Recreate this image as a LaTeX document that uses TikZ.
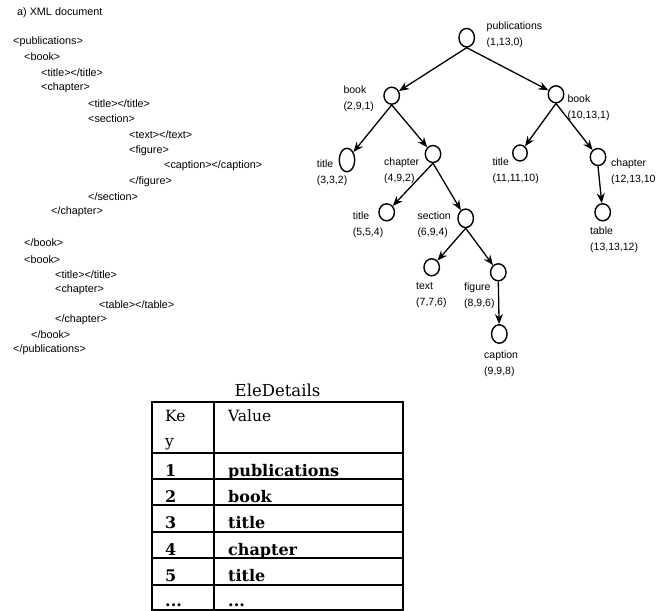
\documentclass[tikz,border=0pt]{standalone}
\usepackage{fontspec}
\setmainfont{Liberation Sans}
\newfontfamily\tabfont{DejaVu Serif}
\usetikzlibrary{shapes.geometric,arrows.meta}

\begin{document}
\begin{tikzpicture}[x=1pt,y=-1pt,
    xml/.style = {anchor=west, inner sep=0pt, font=\fontsize{10.8}{12}\selectfont},
    elem/.style = {draw, ellipse, line width=1.4pt, inner sep=0pt,
        minimum width=15.5pt, minimum height=17pt},
    lbl/.style = {anchor=west, align=left, inner sep=0pt,
        font=\fontsize{10.5}{16}\selectfont},
    edge/.style = {line width=1.3pt, -{Stealth[length=10pt,width=8pt]}},
    cell/.style = {inner sep=0pt, anchor=base west,
        font=\tabfont\fontsize{15.5}{18}\selectfont},
    bcell/.style = {cell, font=\tabfont\bfseries\fontsize{16}{18}\selectfont}]
  \useasboundingbox (0,0) rectangle (657,611);

  % XML document
  \node (head) [xml] at (17,13) {a) XML document};
  \node (x1) [xml] at (13,42) {<publications>};
  \node (x2) [xml] at (24,57) {<book>};
  \node (x3) [xml] at (41,73) {<title></title>};
  \node (x4) [xml] at (41,88) {<chapter>};
  \node (x5) [xml] at (88,104) {<title></title>};
  \node (x6) [xml] at (88,119) {<section>};
  \node (x7) [xml] at (129,135) {<text></text>};
  \node (x8) [xml] at (129,151) {<figure>};
  \node (x9) [xml] at (164,166) {<caption></caption>};
  \node (x10) [xml] at (129,182) {</figure>};
  \node (x11) [xml] at (88,197) {</section>};
  \node (x12) [xml] at (51,212) {</chapter>};
  \node (x13) [xml] at (24,243) {</book>};
  \node (x14) [xml] at (24,260) {<book>};
  \node (x15) [xml] at (55,275) {<title></title>};
  \node (x16) [xml] at (55,290) {<chapter>};
  \node (x17) [xml] at (99,305) {<table></table>};
  \node (x18) [xml] at (55,320) {</chapter>};
  \node (x19) [xml] at (31,335) {</book>};
  \node (x20) [xml] at (13,350) {</publications>};

  % tree
  \node (pub) [elem, minimum height=18.5pt] at (466.7,37.7) {};
  \node (bookL) [elem] at (391.7,95.7) {};
  \node (bookR) [elem] at (556,94.3) {};
  \node (titleL) [elem, minimum height=23.5pt] at (347,160) {};
  \node (chapL) [elem] at (433,154) {};
  \node (titleR) [elem, minimum width=14.5pt, minimum height=16pt] at (520,153) {};
  \node (chapR) [elem] at (598,157) {};
  \node (titleC) [elem] at (386.7,212.3) {};
  \node (sec) [elem, minimum height=18.5pt] at (465.7,218.3) {};
  \node (txt) [elem] at (431.7,267.3) {};
  \node (fig) [elem] at (498.3,272.3) {};
  \node (cap) [elem, minimum height=18.5pt] at (499.3,334) {};
  \node (tab) [elem] at (602.7,212.3) {};

  \node (lpub) [lbl] at (486.5,35) {publications\\(1,13,0)};
  \node (lbookL) [lbl] at (343.3,99) {book\\(2,9,1)};
  \node (lbookR) [lbl] at (567.3,108) {book\\(10,13,1)};
  \node (ltitleL) [lbl] at (316.7,172.5) {title\\(3,3,2)};
  \node (lchapL) [lbl] at (384,171) {chapter\\(4,9,2)};
  \node (ltitleR) [lbl] at (492.3,171) {title\\(11,11,10)};
  \node (lchapR) [lbl] at (611,172) {chapter\\(12,13,10};
  \node (ltitleC) [lbl] at (352.7,225) {title\\(5,5,4)};
  \node (lsec) [lbl] at (417.3,225) {section\\(6,9,4)};
  \node (ltxt) [lbl] at (416,295) {text\\(7,7,6)};
  \node (lfig) [lbl] at (464,296) {figure\\(8,9,6)};
  \node (lcap) [lbl] at (484,364) {caption\\(9,9,8)};
  \node (ltab) [lbl] at (590,240) {table\\(13,13,12)};

  \draw[edge] (pub.south) -- (bookL);
  \draw[edge] (pub.south) -- (bookR);
  \draw[edge] (bookL.south) -- (titleL);
  \draw[edge] (bookL.south) -- (chapL);
  \draw[edge] (chapL.south) -- (titleC);
  \draw[edge] (chapL.south) -- (sec);
  \draw[edge] (sec.south) -- (txt);
  \draw[edge] (sec.south) -- (fig);
  \draw[edge] (fig.south) -- (cap);
  \draw[edge] (bookR.south) -- (titleR);
  \draw[edge] (bookR.south) -- (chapR);
  \draw[edge] (chapR.south) -- (tab);

  % EleDetails table
  \node (caption) [inner sep=0pt, anchor=base,
      font=\tabfont\fontsize{16.5}{18}\selectfont] at (277.5,396) {EleDetails};
  \draw[line width=1.6pt] (152,402) rectangle (403,610);
  \draw[line width=1.6pt] (214,402) -- (214,610);
  \foreach \y in {453,479,505,532,558,585}
    \draw[line width=1.6pt] (152,\y) -- (403,\y);
  \node (k0) [cell] at (165,421) {Ke};
  \node (k0b) [cell] at (165,446) {y};
  \node (v0) [cell] at (228,421) {Value};
  \foreach \k/\v/\y in {1/publications/476.5, 2/book/502.5, 3/title/528.5,
      4/chapter/555, 5/title/581.5}{
    \node (k\k) [bcell] at (165,\y) {\k};
    \node (v\k) [bcell] at (228,\y) {\v};
  }
  \node (k6) [bcell] at (165,606) {...};
  \node (v6) [bcell] at (228,606) {...};
\end{tikzpicture}
\end{document}
